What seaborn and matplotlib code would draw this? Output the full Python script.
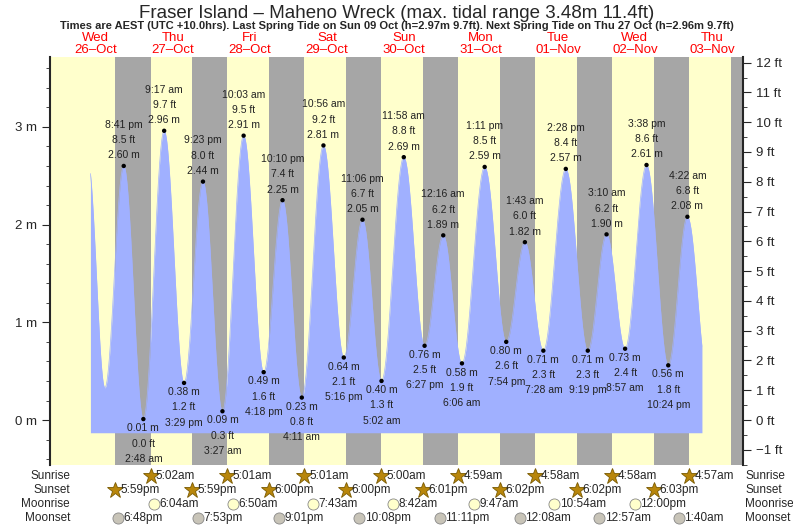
import numpy as np
import pandas as pd
import matplotlib
matplotlib.use("Agg")
import matplotlib.pyplot as plt
import matplotlib.transforms as mtrans
import seaborn as sns

# ---- data (hours since Wed 26-Oct 00:00) ----
tide_hours = [9.5, 14.8, 20.68, 26.8, 33.28, 39.48, 45.38, 51.45, 58.05, 64.3, 70.17, 76.18,
              82.93, 89.27, 95.1, 101.03, 107.97, 114.45, 120.27, 126.1, 133.18, 139.9,
              145.72, 151.47, 158.47, 165.32, 171.17, 176.95, 183.63, 190.4, 196.37, 202.7]
tide_m = [2.65, 0.33, 2.60, 0.01, 2.96, 0.38, 2.44, 0.09, 2.91, 0.49, 2.25, 0.23,
          2.81, 0.64, 2.05, 0.40, 2.69, 0.76, 1.89, 0.58, 2.59, 0.80,
          1.82, 0.71, 2.57, 0.71, 1.90, 0.73, 2.61, 0.56, 2.08, 0.45]
label_idx_from = 2
label_idx_to = 30
tide_ft = ["8.5", "0.0", "9.7", "1.2", "8.0", "0.3", "9.5", "1.6", "7.4", "0.8", "9.2", "2.1",
           "6.7", "1.3", "8.8", "2.5", "6.2", "1.9", "8.5", "2.6", "6.0", "2.3", "8.4", "2.3",
           "6.2", "2.4", "8.6", "1.8", "6.8"]
tide_times = ["8:41 pm", "2:48 am", "9:17 am", "3:29 pm", "9:23 pm", "3:27 am", "10:03 am", "4:18 pm",
              "10:10 pm", "4:11 am", "10:56 am", "5:16 pm", "11:06 pm", "5:02 am", "11:58 am", "6:27 pm",
              "12:16 am", "6:06 am", "1:11 pm", "7:54 pm", "1:43 am", "7:28 am", "2:28 pm", "9:19 pm",
              "3:10 am", "8:57 am", "3:38 pm", "10:24 pm", "4:22 am"]
fill_start, fill_end = 10.3, 200.9

day_names = ["Wed", "Thu", "Fri", "Sat", "Sun", "Mon", "Tue", "Wed", "Thu"]
day_dates = ["26\u2013Oct", "27\u2013Oct", "28\u2013Oct", "29\u2013Oct", "30\u2013Oct", "31\u2013Oct",
             "01\u2013Nov", "02\u2013Nov", "03\u2013Nov"]
sunrise_h = [29.03, 53.02, 77.02, 101.0, 124.98, 148.97, 172.97, 196.95]
sunrise_txt = ["5:02am", "5:01am", "5:01am", "5:00am", "4:59am", "4:58am", "4:58am", "4:57am"]
sunset_h = [17.98, 41.98, 66.0, 90.0, 114.02, 138.03, 162.03, 186.05, 210.05]
sunset_txt = ["5:59pm", "5:59pm", "6:00pm", "6:00pm", "6:01pm", "6:02pm", "6:02pm", "6:03pm", ""]
moonrise_h = [30.07, 54.83, 79.72, 104.7, 129.78, 154.9, 180.0]
moonrise_txt = ["6:04am", "6:50am", "7:43am", "8:42am", "9:47am", "10:54am", "12:00pm"]
moonset_h = [18.8, 43.88, 69.02, 94.13, 119.18, 144.13, 168.95, 193.67]
moonset_txt = ["6:48pm", "7:53pm", "9:01pm", "10:08pm", "11:11pm", "12:08am", "12:57am", "1:40am"]

XMIN, XMAX = -2.3, 213.7
YMIN, YMAX = -0.46, 3.715

th = np.array(tide_hours); tm = np.array(tide_m)
t = np.linspace(fill_start, fill_end, 2000)
seg = np.clip(np.searchsorted(th, t) - 1, 0, len(th) - 2)
frac = (t - th[seg]) / (th[seg + 1] - th[seg])
h = tm[seg] + (tm[seg + 1] - tm[seg]) * (1 - np.cos(np.pi * frac)) / 2
curve = pd.DataFrame({"t": t, "h": h})

sns.set_style("ticks")
plt.rcParams["font.family"] = "Liberation Sans"
fig = plt.figure(figsize=(7.93, 5.25), dpi=100)
ax = fig.add_axes([50/793, 60/525, 693/793, 408/525])
ax.set_xlim(XMIN, XMAX); ax.set_ylim(YMIN, YMAX)
ax.set_facecolor("#ffffcc")
for i, ss in enumerate(sunset_h):
    end = sunrise_h[i] if i < len(sunrise_h) else XMAX + 5
    ax.axvspan(ss, end, color="#a6a6a6", lw=0, zorder=0)

ax.fill_between(curve["t"], -0.13, curve["h"], color="#a0b0ff", lw=0, zorder=1)
sns.lineplot(data=curve, x="t", y="h", color="#a0b0ff", lw=0.5, ax=ax, zorder=1)
pts = pd.DataFrame({"t": th[label_idx_from:label_idx_to+1], "h": tm[label_idx_from:label_idx_to+1]})
sns.scatterplot(data=pts, x="t", y="h", color="black", s=10, ax=ax, zorder=3, edgecolor="none")

for k, i in enumerate(range(label_idx_from, label_idx_to + 1)):
    high = tm[i] > tm[i - 1]
    m = f"{tm[i]:.2f} m"; ft = f"{tide_ft[k]} ft"; tt = tide_times[k]
    if high:
        lines = [(tt, 26), (ft, 15), (m, 4)]
        va = "bottom"
    else:
        lines = [(m, -3), (ft, -14), (tt, -25)]
        va = "top"
    for s, dy in lines:
        ax.annotate(s, (th[i], tm[i]), xytext=(0, dy), textcoords="offset points",
                    ha="center", va=va, fontsize=7.5, color="#222222", zorder=4)

ax.set_xlabel(""); ax.set_ylabel("")
ax.set_xticks([])
ax.set_yticks([0, 1, 2, 3]); ax.set_yticklabels(["0 m", "1 m", "2 m", "3 m"], fontsize=9.5)
ax.set_yticks(np.arange(-0.4, 3.71, 0.2), minor=True)
ax.tick_params(axis="y", which="major", length=6, direction="out")
ax.tick_params(axis="y", which="minor", length=3)
for sp in ["top", "bottom", "right"]:
    ax.spines[sp].set_visible(False)
ax.spines["left"].set_linewidth(1.5)

ax2 = ax.twinx()
ax2.set_ylim(YMIN / 0.3048, YMAX / 0.3048)
ax2.set_yticks(range(-1, 13))
ax2.set_yticklabels([("\u22121" if v < 0 else str(v)) + " ft" for v in range(-1, 13)], fontsize=9.5)
ax2.set_yticks(np.arange(-1.5, 12.2, 0.5), minor=True)
ax2.tick_params(axis="y", which="major", length=6)
ax2.tick_params(axis="y", which="minor", length=3)
for sp in ["top", "bottom", "left"]:
    ax2.spines[sp].set_visible(False)
ax2.spines["right"].set_linewidth(1.5)

trans = mtrans.blended_transform_factory(ax.transData, fig.transFigure)
for i, (dn, dd) in enumerate(zip(day_names, day_dates)):
    fig.text(12 + 24 * i, 1 - 38/525, dn, transform=trans, ha="center", va="center", color="red", fontsize=9.5)
    fig.text(12 + 24 * i, 1 - 50/525, dd, transform=trans, ha="center", va="center", color="red", fontsize=9.5)

fig.text(0.5, 1 - 13/525, "Fraser Island \u2013 Maheno Wreck (max. tidal range 3.48m 11.4ft)",
         ha="center", va="center", fontsize=13.5)
fig.text(0.5, 1 - 26/525,
         "Times are AEST (UTC +10.0hrs). Last Spring Tide on Sun 09 Oct (h=2.97m 9.7ft). Next Spring Tide on Thu 27 Oct (h=2.96m 9.7ft)",
         ha="center", va="center", fontsize=8, fontweight="bold")

rows = [("Sunrise", 476, sunrise_h, sunrise_txt, "star"),
        ("Sunset", 490, sunset_h, sunset_txt, "star"),
        ("Moonrise", 504, moonrise_h, moonrise_txt, "moonrise"),
        ("Moonset", 518, moonset_h, moonset_txt, "moonset")]
for name, ypx, hs, txts, kind in rows:
    yf = 1 - ypx / 525
    fig.text(70/793, yf, name, ha="right", va="center", fontsize=8.5)
    fig.text(745/793, yf, name, ha="left", va="center", fontsize=8.5)
    for hh, tx in zip(hs, txts):
        if not tx:
            continue
        if kind == "star":
            fig.add_artist(plt.Line2D([hh], [yf], transform=trans, marker="*", ms=12,
                                      color="#b8860b", mec="#7a5a00", mew=0.6))
        else:
            fc = "#ffffcc" if kind == "moonrise" else "#c8c4b8"
            fig.add_artist(plt.Line2D([hh], [yf], transform=trans, marker="o", ms=8,
                                      color=fc, mec="#888888", mew=0.6))
        fig.text(hh + 1.7, yf, tx, transform=trans, ha="left", va="center", fontsize=8.5)

fig.savefig("out.png", dpi=100)
